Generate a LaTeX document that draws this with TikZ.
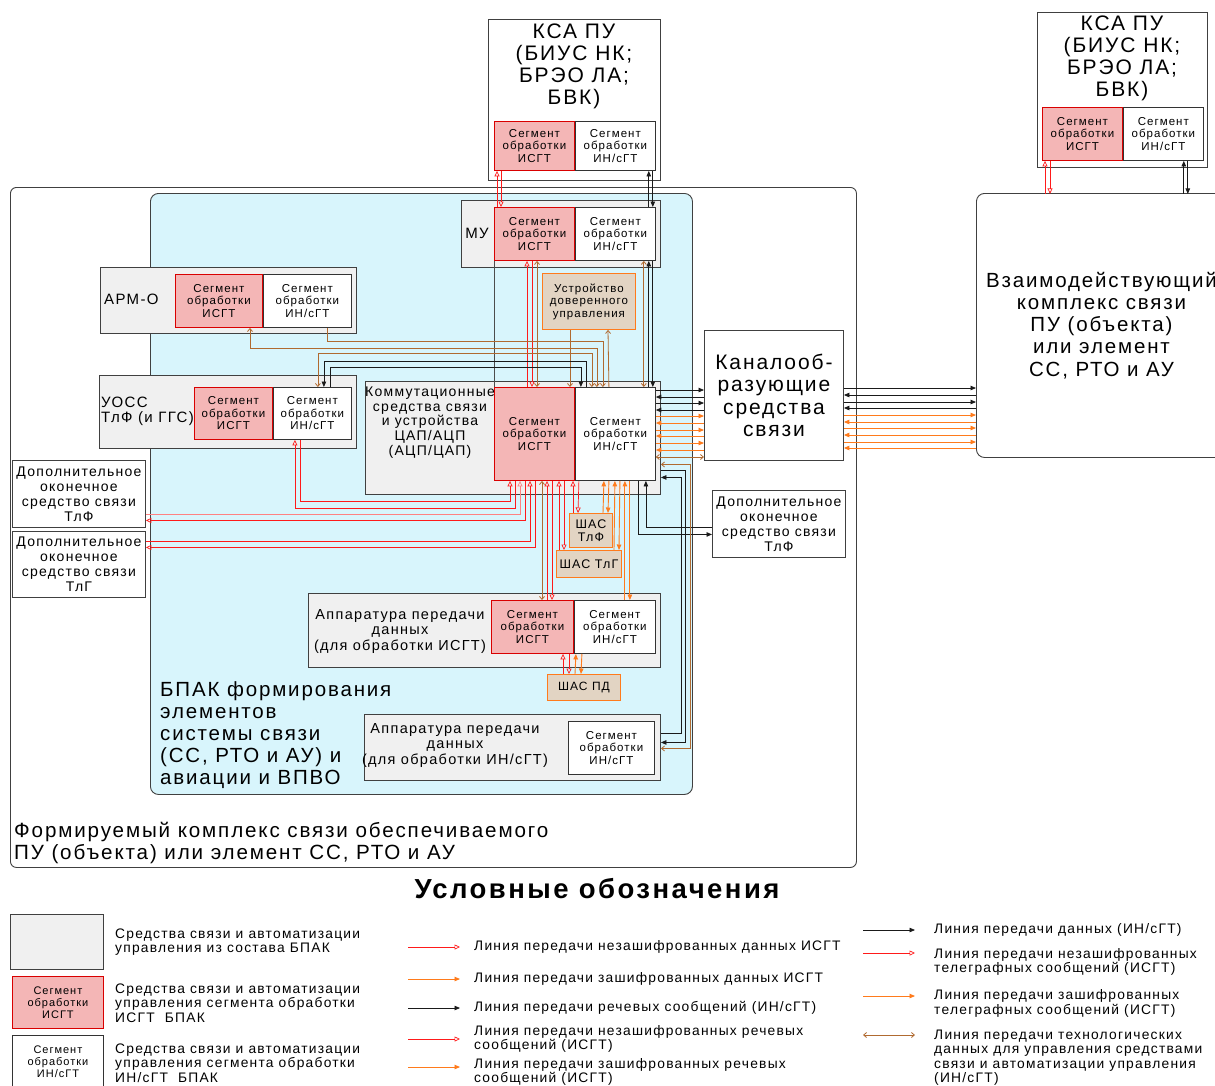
\documentclass[tikz,border=0pt]{standalone}
\usepackage{fontspec}
\setmainfont{Liberation Sans}[LetterSpace=9]
\usepackage{tikz}
\usetikzlibrary{arrows.meta,positioning,calc}

\definecolor{boxgray}{HTML}{F0F0F0}
\definecolor{segpink}{HTML}{F4B6B6}
\definecolor{bpakblue}{HTML}{D8F5FC}
\definecolor{shastan}{HTML}{E2D4C3}
\definecolor{lnred}{HTML}{FF1A1A}
\definecolor{lnorange}{HTML}{FF7B1C}
\definecolor{lnbrown}{HTML}{B06A30}
\definecolor{lnblack}{HTML}{1A1A1A}

\newcommand{\fs}[2]{\fontsize{#1}{#2}\selectfont}
\newcommand{\segI}{Сегмент\\обработки\\ИСГТ}
\newcommand{\segN}{Сегмент\\обработки\\ИН/сГТ}
\newcommand{\lgfont}{\fs{13.8}{14.5}}

\begin{document}
\begin{tikzpicture}[x=1pt,y=-1pt,
    box/.style={draw=black!75,fill=boxgray,line width=0.9pt,anchor=north west,inner sep=0pt},
    wbox/.style={box,fill=white},
    segi/.style={draw=red!85!black,fill=segpink,line width=0.9pt,anchor=north west,inner sep=0pt,align=center,font=\fs{11.5}{12.5}},
    segn/.style={segi,draw=black!80,fill=white},
    shas/.style={draw=lnorange,fill=shastan,line width=0.9pt,anchor=north west,inner sep=0pt,align=center},
    txt/.style={inner sep=0pt,align=center},
    redln/.style={lnred,line width=0.7pt,-{Triangle[open,length=5.5pt,width=5pt]}},
    orln/.style={lnorange,line width=0.9pt,-{Triangle[length=5.5pt,width=4.5pt]}},
    blkln/.style={lnblack,line width=0.8pt,-{Triangle[length=5.5pt,width=4.5pt]}},
    brln/.style={lnbrown,line width=0.8pt,-{Straight Barb[length=3pt,width=5pt]}},
    brdbl/.style={brln,{Straight Barb[length=3pt,width=5pt]}-{Straight Barb[length=3pt,width=5pt]}},
]
    \useasboundingbox (0,0) rectangle (1215,1085);

    % Outer complex and BPAK
    \node[wbox,rounded corners=6,minimum width=846,minimum height=680] (fk) at (10,187) {};
    \node[box,fill=bpakblue,rounded corners=8,minimum width=542,minimum height=601] (bpak) at (150,193) {};
    \node[txt,anchor=north west,align=left,font=\fs{20.6}{22}] (fkT) at (14,822) {Формируемый комплекс связи обеспечиваемого\\ПУ (объекта) или элемент СС, РТО и АУ};
    \node[txt,anchor=north west,align=left,font=\fs{20.5}{22}] (bpakT) at (160,681) {БПАК формирования\\элементов\\системы связи\\(СС, РТО и АУ) и\\авиации и ВПВО};

    % KSA PU (top)
    \node[wbox,minimum width=172,minimum height=161] (ksa) at (488,19) {};
    \node[txt,anchor=north,font=\fs{21}{22}] (ksaT) at (574,24) {КСА ПУ\\(БИУС НК;\\БРЭО ЛА;\\БВК)};
    \node[segi,minimum width=80,minimum height=49] (ksaI) at (494,121) {\segI};
    \node[segn,minimum width=80,minimum height=49] (ksaN) at (ksaI.north east) {\segN};

    % KSA PU (right)
    \node[wbox,minimum width=170,minimum height=155] (ksa2) at (1037,12) {};
    \node[txt,anchor=north,font=\fs{21}{22}] (ksa2T) at (1122,16) {КСА ПУ\\(БИУС НК;\\БРЭО ЛА;\\БВК)};
    \node[segi,minimum width=80,minimum height=53] (ksa2I) at (1042,107) {\segI};
    \node[segn,minimum width=80,minimum height=53] (ksa2N) at (ksa2I.north east) {\segN};
    \node[wbox,rounded corners=8,minimum width=250,minimum height=264,align=center,font=\fs{20.5}{22.2}] (vz) at (976,193) {Взаимодействующий\\комплекс связи\\ПУ (объекта)\\или элемент\\СС, РТО и АУ};

    % MU, ARM-O, UOSS
    \node[box,minimum width=199,minimum height=67] (mu) at (461,200) {};
    \node[txt,font=\fs{15}{16}] (muT) at (477,233) {МУ};
    \node[segi,minimum width=80,minimum height=53] (muI) at (494,207) {\segI};
    \node[segn,minimum width=80,minimum height=53] (muN) at (muI.north east) {\segN};

    \node[box,minimum width=256,minimum height=66] (arm) at (100,267) {};
    \node[txt,anchor=west,font=\fs{15}{16}] (armT) at (104,299) {АРМ-О};
    \node[segi,minimum width=87,minimum height=53] (armI) at (175,274) {\segI};
    \node[segn,minimum width=88,minimum height=53] (armN) at (armI.north east) {\segN};

    \node[shas,minimum width=93,minimum height=56,font=\fs{11.5}{12.5}] (dov) at (542,273) {Устройство\\доверенного\\управления};

    \node[box,minimum width=257,minimum height=73] (uoss) at (99,375) {};
    \node[txt,anchor=west,align=left,font=\fs{15}{15}] (uossT) at (101,411.5) {УОСС\\ТлФ (и ГГС)};
    \node[segi,minimum width=78,minimum height=52] (uossI) at (194,387) {\segI};
    \node[segn,minimum width=78,minimum height=52] (uossN) at (uossI.north east) {\segN};

    % switching equipment
    \node[box,minimum width=295,minimum height=113] (komm) at (365,381) {};
    \node[txt,anchor=north,font=\fs{14}{14.8}] (kommT) at (430,386.5) {Коммутационные\\средства связи\\и устройства\\ЦАП/АЦП\\(АЦП/ЦАП)};
    \node[segi,minimum width=80,minimum height=93] (kommI) at (494,387) {\segI};
    \node[segn,minimum width=80,minimum height=93] (kommN) at (kommI.north east) {\segN};

    \node[wbox,minimum width=139,minimum height=130,align=center,font=\fs{21}{22.3}] (kan) at (704,330) {Каналооб-\\разующие\\средства\\связи};

    % terminals
    \node[wbox,minimum width=133,minimum height=67,align=center,font=\fs{14}{15}] (dopF) at (12,460) {Дополнительное\\оконечное\\средство связи\\ТлФ};
    \node[wbox,minimum width=133,minimum height=66,align=center,font=\fs{14}{15}] (dopG) at (12,531) {Дополнительное\\оконечное\\средство связи\\ТлГ};
    \node[wbox,minimum width=133,minimum height=67,align=center,font=\fs{14}{15}] (dopR) at (712,490) {Дополнительное\\оконечное\\средство связи\\ТлФ};

    \node[shas,minimum width=43,minimum height=34,font=\fs{12.5}{12.5}] (shasF) at (569,513) {ШАС\\ТлФ};
    \node[shas,minimum width=65,minimum height=27,font=\fs{12.5}{13}] (shasG) at (556,550) {ШАС ТлГ};
    \node[shas,minimum width=73,minimum height=26,font=\fs{12}{13}] (shasP) at (547,674) {ШАС ПД};

    % data transmission equipment
    \node[box,minimum width=352,minimum height=74] (apdI) at (308,593) {};
    \node[txt,font=\fs{14.5}{15.5}] (apdIT) at (400,631.5) {Аппаратура передачи\\данных\\(для обработки ИСГТ)};
    \node[segi,minimum width=82,minimum height=53] (apdIi) at (491,600) {\segI};
    \node[segn,minimum width=81,minimum height=53] (apdIn) at (apdIi.north east) {\segN};

    \node[box,minimum width=296,minimum height=66] (apdN) at (364,714) {};
    \node[txt,font=\fs{14.5}{15.5}] (apdNT) at (455,745.5) {Аппаратура передачи\\данных\\(для обработки ИН/сГТ)};
    \node[segn,minimum width=86,minimum height=53] (apdNn) at (568,721) {\segN};

    % KSA -- MU
    \draw[redln] ([xshift=3]muI.north west) -- ([xshift=3]ksaI.south west);
    \draw[redln] ([xshift=7]ksaI.south west) -- ([xshift=7]muI.north west);
    \draw[blkln] ([xshift=-7]muN.north east) -- ([xshift=-7]ksaN.south east);
    \draw[blkln] ([xshift=-3]ksaN.south east) -- ([xshift=-3]muN.north east);

    % KSA (right) -- interacting complex
    \draw[redln] ([xshift=3]ksa2I.south west) ++(0,33) -- ([xshift=3]ksa2I.south west);
    \draw[redln] ([xshift=8]ksa2I.south west) -- ++(0,33);
    \draw[blkln] ([xshift=-20]ksa2N.south east) ++(0,33) -- ([xshift=-20]ksa2N.south east);
    \draw[blkln] ([xshift=-16]ksa2N.south east) -- ++(0,33);

    % MU -- switching
    \draw[black!70,line width=0.8pt] (muI.south west) -- (kommI.north west);
    \draw[redln] ([xshift=33]kommI.north west) -- ([xshift=33]muI.south west);
    \draw[redln] ([xshift=38]muI.south west) -- ([xshift=38]kommI.north west);
    \draw[brdbl] ([xshift=43]muI.south west) -- ([xshift=43]kommI.north west);
    \draw[brdbl] ([xshift=-12]muN.south east) -- ([xshift=-12]kommN.north east);
    \draw[blkln] ([xshift=-7]kommN.north east) -- ([xshift=-7]muN.south east);
    \draw[blkln] ([xshift=-3]muN.south east) -- ([xshift=-3]kommN.north east);

    % trusted control unit
    \draw[brln] ([xshift=28]dov.south west) -- ([xshift=76]kommI.north west);
    \draw[brln] ([xshift=34]kommN.north west) -- ([xshift=66]dov.south west);

    % ARM-O, UOSS -- switching
    \draw[brln] ([xshift=64]armN.south west) -- ++(0,13) -| ([xshift=28]kommN.north west);
    \draw[brdbl] ([xshift=75]armI.south west) -- ++(0,20) -| ([xshift=22]kommN.north west);
    \draw[brdbl] ([xshift=45]uossN.north west) -- ++(0,-34) -| ([xshift=17]kommN.north west);
    \draw[blkln] ([xshift=11]kommN.north west) -- ++(0,-26) -| ([xshift=51]uossN.north west);
    \draw[blkln] ([xshift=57]uossN.north west) -- ++(0,-20) -| ([xshift=6]kommN.north west);

    % switching -- left terminals
    \draw[redln] ([xshift=27]uossN.south west) -- ++(0,61) -| ([xshift=16]kommI.south west);
    \draw[redln] ([xshift=21]kommI.south west) -- ++(0,27) -| ([xshift=22]uossN.south west);
    \draw[redln,lnred!55] ([yshift=-20.5]dopF.east) -| ([xshift=26]kommI.south west);
    \draw[redln] ([xshift=31]kommI.south west) |- ([yshift=-26.5]dopF.east);
    \draw[redln] ([yshift=23]dopG.east) -| ([xshift=36]kommI.south west);
    \draw[redln] ([xshift=41]kommI.south west) |- ([yshift=17]dopG.east);

    % switching -- data equipment, SHAS
    \draw[brdbl] ([xshift=48]kommI.south west) -- ([xshift=51]apdIi.north west);
    \draw[redln] ([xshift=56]apdIi.north west) -- ([xshift=53]kommI.south west);
    \draw[redln] ([xshift=58]kommI.south west) -- ([xshift=61]apdIi.north west);
    \draw[redln] ([xshift=3]shasG.north west) -- ([xshift=65]kommI.south west);
    \draw[redln] ([xshift=70]kommI.south west) -- ([xshift=8]shasG.north west);
    \draw[redln] ([xshift=4]shasF.north west) -- ([xshift=79]kommI.south west);
    \draw[redln] ([xshift=4]kommN.south west) -- ([xshift=9]shasF.north west);
    \draw[orln] ([xshift=34]shasF.north west) -- ([xshift=29]kommN.south west);
    \draw[orln] ([xshift=34]kommN.south west) -- ([xshift=39]shasF.north west);
    \draw[orln] ([xshift=58]shasG.north west) -- ([xshift=40]kommN.south west);
    \draw[orln] ([xshift=45]kommN.south west) -- ([xshift=63]shasG.north west);
    \draw[orln] ([xshift=51]apdIn.north west) -- ([xshift=50]kommN.south west);
    \draw[orln] ([xshift=55]kommN.south west) -- ([xshift=56]apdIn.north west);

    % switching -- right terminal
    \draw[blkln] ([yshift=-3.5]dopR.west) -| ([xshift=71]kommN.south west);
    \draw[blkln] ([xshift=63]kommN.south west) |- ([yshift=-10.5]dopR.west);

    % switching -- data equipment IN/sGT
    \draw[brdbl] ([yshift=-26.5]komm.east) -- ++(29,0) |- ([yshift=-1]apdN.east);
    \draw[blkln] ([yshift=-32.5]komm.east) -- ++(24,0) |- ([yshift=5]apdN.east);
    \draw[blkln] ([yshift=14]apdN.east) -- ++(20,0) |- ([yshift=-39.5]komm.east);

    % switching -- channel equipment -- interacting complex
    \foreach \yy/\st in {390/blkln,403/blkln,416/orln,430/orln,443/orln}{
        \coordinate (yk) at (0,\yy);
        \draw[\st] (kommN.east |- yk) -- (kan.west |- yk);
    }
    \foreach \yy/\st in {397/blkln,410/blkln,423/orln,436/orln,450/orln}{
        \coordinate (yk) at (0,\yy);
        \draw[\st] (kan.west |- yk) -- (kommN.east |- yk);
    }
    \coordinate (yk) at (0,457);
    \draw[brdbl] (kommN.east |- yk) -- (kan.west |- yk);
    \foreach \yy/\st in {388/blkln,402/blkln,415/orln,428/orln,442/orln}{
        \coordinate (yk) at (0,\yy);
        \draw[\st] (kan.east |- yk) -- (vz.west |- yk);
    }
    \foreach \yy/\st in {395/blkln,408/blkln,422/orln,435/orln,448/orln}{
        \coordinate (yk) at (0,\yy);
        \draw[\st] (vz.west |- yk) -- (kan.east |- yk);
    }

    % data equipment -- SHAS PD
    \draw[redln] ([xshift=16]shasP.north west) -- ([xshift=72]apdIi.south west);
    \draw[redln] ([xshift=78]apdIi.south west) -- ([xshift=22]shasP.north west);
    \draw[orln] ([xshift=28]shasP.north west) -- ([xshift=2]apdIn.south west);
    \draw[orln] ([xshift=8]apdIn.south west) -- ([xshift=34]shasP.north west);

    % Legend
    \node[txt,font=\bfseries\fs{27.5}{28}] (lgT) at (597,889) {Условные обозначения};
    \node[box,minimum width=93,minimum height=55] (lb1) at (10,914) {};
    \node[segi,minimum width=91,minimum height=52,font=\fs{11}{12}] (lb2) at (12,976) {\segI};
    \node[segn,minimum width=91,minimum height=52,font=\fs{11}{12}] (lb3) at (12,1035) {\segN};
    \node[txt,anchor=west,align=left,font=\lgfont] (lt1) at (115,942) {Средства связи и автоматизации\\управления из состава БПАК};
    \node[txt,anchor=west,align=left,font=\lgfont] (lt2) at (115,1003) {Средства связи и автоматизации\\управления сегмента обработки\\ИСГТ\ \ БПАК};
    \node[txt,anchor=west,align=left,font=\lgfont] (lt3) at (115,1063) {Средства связи и автоматизации\\управления сегмента обработки\\ИН/сГТ\ \ БПАК};

    \node[txt,anchor=west,align=left,font=\lgfont] (lgA) at (474,947) {Линия передачи незашифрованных данных ИСГТ};
    \node[txt,anchor=west,align=left,font=\lgfont] (lgB) at (474,979) {Линия передачи зашифрованных данных ИСГТ};
    \node[txt,anchor=west,align=left,font=\lgfont] (lgC) at (474,1008) {Линия передачи речевых сообщений (ИН/сГТ)};
    \node[txt,anchor=west,align=left,font=\lgfont] (lgD) at (474,1039) {Линия передачи незашифрованных речевых\\сообщений (ИСГТ)};
    \node[txt,anchor=west,align=left,font=\lgfont] (lgE) at (474,1072) {Линия передачи зашифрованных речевых\\сообщений (ИСГТ)};
    \draw[redln] ([xshift=-66]lgA.west) -- ([xshift=-14]lgA.west);
    \draw[orln] ([xshift=-66]lgB.west) -- ([xshift=-14]lgB.west);
    \draw[blkln] ([xshift=-66]lgC.west) -- ([xshift=-14]lgC.west);
    \draw[redln] ([xshift=-66]lgD.west) -- ([xshift=-14]lgD.west);
    \draw[orln] ([xshift=-66,yshift=5]lgE.west) -- ([xshift=-14,yshift=5]lgE.west);

    \node[txt,anchor=west,align=left,font=\lgfont] (lgF) at (934,930) {Линия передачи данных (ИН/сГТ)};
    \node[txt,anchor=west,align=left,font=\lgfont] (lgG) at (934,962) {Линия передачи незашифрованных\\телеграфных сообщений (ИСГТ)};
    \node[txt,anchor=west,align=left,font=\lgfont] (lgH) at (934,1003.5) {Линия передачи зашифрованных\\телеграфных сообщений (ИСГТ)};
    \node[txt,anchor=west,align=left,font=\lgfont] (lgJ) at (934,1057.5) {Линия передачи технологических\\данных для управления средствами\\связи и автоматизации управления\\(ИН/сГТ)};
    \draw[blkln] ([xshift=-71]lgF.west) -- ([xshift=-19]lgF.west);
    \draw[redln] ([xshift=-71,yshift=9]lgG.west) -- ([xshift=-19,yshift=9]lgG.west);
    \draw[orln] ([xshift=-71,yshift=7.5]lgH.west) -- ([xshift=-19,yshift=7.5]lgH.west);
    \draw[brdbl] ([xshift=-71,yshift=22.5]lgJ.west) -- ([xshift=-19,yshift=22.5]lgJ.west);
\end{tikzpicture}
\end{document}
